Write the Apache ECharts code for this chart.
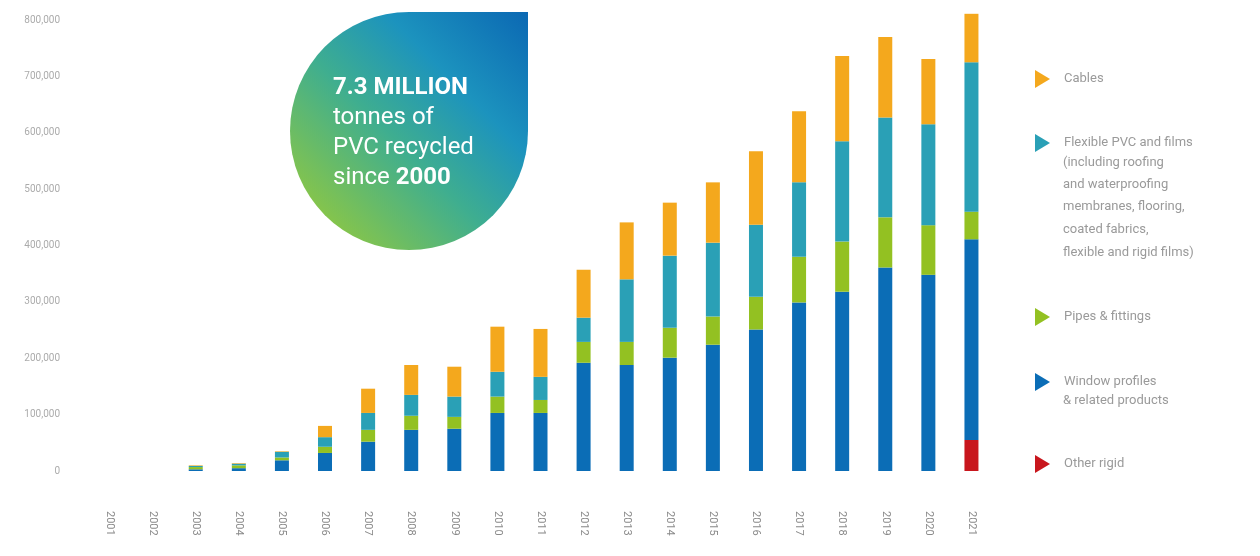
<!DOCTYPE html>
<html>
<head>
<meta charset="utf-8">
<script src="https://cdn.jsdelivr.net/npm/echarts@6/dist/echarts.min.js"></script>
<style>
  html, body { margin: 0; padding: 0; background: #ffffff; }
  #chart { width: 1260px; height: 556px; }
</style>
</head>
<body>
<div id="chart"></div>
<script>
// PVC recycled per year by application (tonnes)
const years = ['2001','2002','2003','2004','2005','2006','2007','2008','2009','2010','2011',
               '2012','2013','2014','2015','2016','2017','2018','2019','2020','2021'];
const otherRigid = [0,0,0,0,0,0,0,0,0,0,0,0,0,0,0,0,0,0,0,0,55000];
const windowProfiles = [0,0,3000,5000,19000,32000,52000,73000,75000,103000,103000,192000,188000,201000,224000,251000,299000,318000,361000,348000,356000];
const pipesFittings = [0,0,4000,5000,5000,11000,21000,25000,21000,29000,23000,37000,41000,53000,50000,58000,81000,89000,89000,88000,49000];
const flexiblePvc = [0,0,2000,3000,10000,17000,30000,37000,36000,44000,41000,43000,111000,128000,131000,128000,132000,178000,177000,179000,265000];
const cables = [0,0,1000,1000,1000,20000,43000,53000,53000,80000,85000,85000,101000,94000,107000,130000,126000,151000,143000,116000,86000];
const yTicks = [0,100000,200000,300000,400000,500000,600000,700000,800000];

const names = {
  cables: 'Cables',
  flex: 'Flexible PVC and films',
  pipes: 'Pipes & fittings',
  win: 'Window profiles',
  other: 'Other rigid'
};
const colors = {
  cables: '#f4a81d',
  flex: '#2aa0b6',
  pipes: '#93c122',
  win: '#0b6db6',
  other: '#c8161d'
};

const triangle = 'path://M0,0L10,6L0,12Z';
const legendText = { color: '#9a9a9a', fontSize: 13, fontFamily: 'Roboto', padding: [0, 0, 0, 9] };
function legendAt(name, top) {
  return {
    data: [name], left: 1030, top: top, orient: 'vertical',
    icon: triangle, itemWidth: 15, itemHeight: 18,
    selectedMode: false, textStyle: legendText
  };
}

function barSeries(key, values) {
  return {
    name: names[key], type: 'bar', stack: 'total', data: values,
    barWidth: 14, clip: false,
    itemStyle: { color: colors[key] },
    emphasis: { disabled: true }
  };
}

const contText = (text, y) => ({
  type: 'text', x: 1063, y: y,
  style: { text: text, fill: '#9a9a9a', fontSize: 13, fontFamily: 'Roboto', verticalAlign: 'middle' }
});

// Drop-shaped badge: a circle with a square top-right corner, sharing one gradient
const badge = { cx: 409, cy: 131, r: 119 };
const badgeFill = {
  type: 'linear', global: true,
  x: badge.cx - badge.r, y: badge.cy + badge.r, x2: badge.cx + badge.r, y2: badge.cy - badge.r,
  colorStops: [
    { offset: 0, color: '#a6cf2c' },
    { offset: 0.45, color: '#3fae8f' },
    { offset: 0.7, color: '#1c93be' },
    { offset: 1, color: '#0b68b3' }
  ]
};

const bubbleRich = {
  b: { fill: '#ffffff', fontSize: 24, fontWeight: 'bold', fontFamily: 'Roboto' },
  n: { fill: '#ffffff', fontSize: 24, fontFamily: 'Roboto' }
};
const bubbleLine = (y, text) => ({
  type: 'text', x: 333, y: y, z: 11,
  style: { text: text, rich: bubbleRich, fill: '#ffffff', fontSize: 24, fontFamily: 'Roboto', verticalAlign: 'middle' }
});

const chart = echarts.init(document.getElementById('chart'));
chart.setOption({
  animation: false,
  backgroundColor: '#ffffff',
  grid: { left: 88, right: 267, top: 20, bottom: 85 },
  xAxis: {
    type: 'category', data: years,
    axisLine: { show: false }, axisTick: { show: false },
    axisLabel: { rotate: -90, margin: 40, color: '#8a8a8a', fontSize: 11, fontFamily: 'Roboto', interval: 0 }
  },
  yAxis: {
    type: 'value', min: yTicks[0], max: yTicks[yTicks.length - 1], interval: yTicks[1] - yTicks[0],
    splitLine: { show: false }, axisLine: { show: false }, axisTick: { show: false },
    axisLabel: {
      margin: 28, color: '#ababab', fontSize: 10, fontFamily: 'Roboto',
      formatter: v => v.toLocaleString('en-US')
    }
  },
  legend: [
    legendAt(names.cables, 65),
    legendAt(names.flex, 129),
    legendAt(names.pipes, 303),
    legendAt(names.win, 368),
    legendAt(names.other, 450)
  ],
  series: [
    barSeries('other', otherRigid),
    barSeries('win', windowProfiles),
    barSeries('pipes', pipesFittings),
    barSeries('flex', flexiblePvc),
    barSeries('cables', cables)
  ],
  graphic: [
    contText('(including roofing', 163),
    contText('and waterproofing', 185),
    contText('membranes, flooring,', 207),
    contText('coated fabrics,', 230),
    contText('flexible and rigid films)', 253),
    contText('& related products', 401),
    {
      type: 'circle', z: 10,
      shape: { cx: badge.cx, cy: badge.cy, r: badge.r },
      style: { fill: badgeFill }
    },
    {
      type: 'rect', z: 10,
      shape: { x: badge.cx, y: badge.cy - badge.r, width: badge.r, height: badge.r },
      style: { fill: badgeFill }
    },
    bubbleLine(88, '{b|7.3 MILLION}'),
    bubbleLine(118, '{n|tonnes of}'),
    bubbleLine(148, '{n|PVC recycled}'),
    bubbleLine(178, '{n|since }{b|2000}')
  ]
});
</script>
</body>
</html>
